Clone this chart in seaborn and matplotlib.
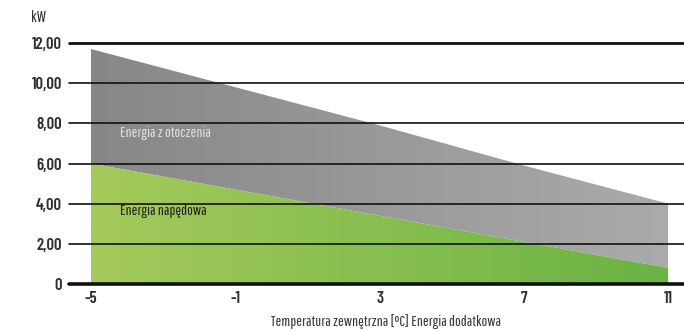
import numpy as np
import pandas as pd
import matplotlib
matplotlib.use("Agg")
import matplotlib.pyplot as plt
from matplotlib.colors import LinearSegmentedColormap
import seaborn as sns

# Outdoor temperature [°C] and heat output [kW]
temperature = [-5, -1, 3, 7, 11]
total_energy = [11.7, 9.8, 7.9, 5.9, 4.0]       # top of grey band (total heat)
drive_energy = [6.0, 4.7, 3.4, 2.1, 0.8]        # top of green band (electric drive)
y_ticks = [0, 2, 4, 6, 8, 10, 12]
y_tick_labels = ["0", "2,00", "4,00", "6,00", "8,00", "10,00", "12,00"]

df = pd.DataFrame({"temp": temperature, "total": total_energy, "drive": drive_energy})

sns.set_theme(style="white")
TEXT_FONT = ["Pathway Gothic One", "Barlow Condensed", "DejaVu Sans"]
NUM_FONT = ["Barlow Condensed", "DejaVu Sans"]
plt.rcParams["font.family"] = TEXT_FONT

fig = plt.figure(figsize=(6.84, 3.31), dpi=100)
ax = fig.add_axes([69 / 684, 1 - 284 / 331, 615 / 684, 241 / 331])

sns.lineplot(data=df, x="temp", y="total", ax=ax, color="#8a8a8a", linewidth=0)
sns.lineplot(data=df, x="temp", y="drive", ax=ax, color="#9cc653", linewidth=0)


def gradient_fill(x, y0, y1, c_left, c_right):
    """Fill between y0 and y1 with a left-to-right colour gradient."""
    poly = ax.fill_between(x, y0, y1, color="none", linewidth=0)
    cmap = LinearSegmentedColormap.from_list("grad", [c_left, c_right])
    grad = np.linspace(0, 1, 256).reshape(1, -1)
    im = ax.imshow(grad, cmap=cmap, aspect="auto",
                   extent=[min(x), max(x), 0, 12], origin="lower", zorder=1)
    im.set_clip_path(poly.get_paths()[0], transform=ax.transData)


gradient_fill(df["temp"], df["drive"], df["total"], "#878787", "#ababab")
gradient_fill(df["temp"], 0, df["drive"], "#a4ca5b", "#6ab344")
ax.set_xlim(-5.61, 11.44)
ax.set_ylim(0, 12)

# horizontal reference lines
for v in y_ticks:
    lw = 2.6 if v == 0 else (2.0 if v == 12 else 1.2)
    ax.axhline(v, color="#111111", linewidth=lw, zorder=3, clip_on=False)

for s in ax.spines.values():
    s.set_visible(False)
ax.grid(False)

ax.set_yticks(y_ticks)
ax.set_yticklabels(y_tick_labels)
ax.set_xticks(temperature)
ax.set_xticklabels([str(t) for t in temperature])
ax.tick_params(axis="both", length=0, labelsize=12, colors="#2e2e2e")
ax.tick_params(axis="y", pad=5)
ax.tick_params(axis="x", pad=5)
for lab in ax.get_yticklabels() + ax.get_xticklabels():
    lab.set_fontfamily(NUM_FONT)
    lab.set_fontweight("semibold")

ax.set_xlabel("")
ax.set_ylabel("")
fig.text(386 / 684, 1 - 322 / 331, "Temperatura zewnętrzna [°C] Energia dodatkowa",
         fontsize=11, color="#333333", ha="center", va="center")
fig.text(38 / 684, 1 - 18 / 331, "kW", fontsize=11.5, color="#333333",
         ha="center", va="center")

ax.text(-4.2, 7.5, "Energia z otoczenia", fontsize=11, color="#e2e2e2",
        va="center", zorder=4)
ax.text(-4.2, 3.65, "Energia napędowa", fontsize=11, color="#1e1e1e",
        va="center", zorder=4)

fig.savefig("out.png", dpi=100)
